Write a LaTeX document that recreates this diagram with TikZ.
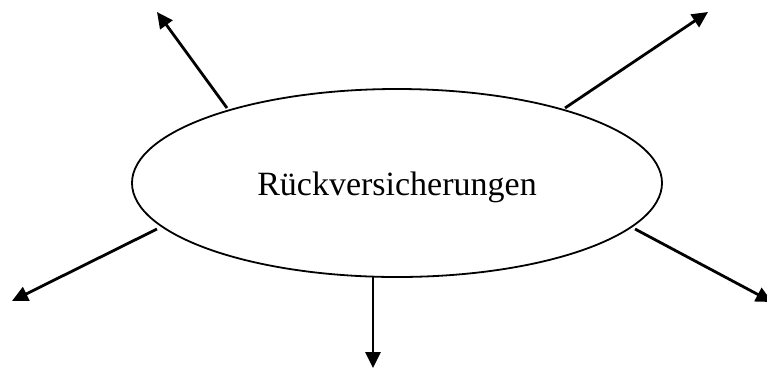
\documentclass[tikz,border=0pt]{standalone}
\usepackage{fontspec}
\setmainfont{Liberation Serif}
\usetikzlibrary{arrows.meta,shapes.geometric}
\begin{document}
\begin{tikzpicture}[x=1pt,y=-1pt,
  conn/.style={line width=2.8pt,-{Triangle[length=16pt,width=15pt]}},
  oval/.style={ellipse,draw,line width=1.8pt,minimum width=530pt,minimum height=188pt,inner sep=0pt}]
\useasboundingbox (0,0) rectangle (767,368);
\node[oval] (e) at (397,183) {};
\node[font=\fontsize{34}{40}\selectfont] (t) at (397,187) {Rückversicherungen};
\coordinate (s1) at (227,108); \coordinate (t1) at (157,12);
\coordinate (s2) at (565,108); \coordinate (t2) at (708,12);
\coordinate (s3) at (157,229); \coordinate (t3) at (12,301);
\coordinate (s4) at (635,229); \coordinate (t4) at (772,302);
\coordinate (s5) at (373,277); \coordinate (t5) at (373,368);
\draw[conn] (s1) -- (t1);
\draw[conn] (s2) -- (t2);
\draw[conn] (s3) -- (t3);
\draw[conn] (s4) -- (t4);
\draw[conn] (s5) -- (t5);
\end{tikzpicture}
\end{document}
